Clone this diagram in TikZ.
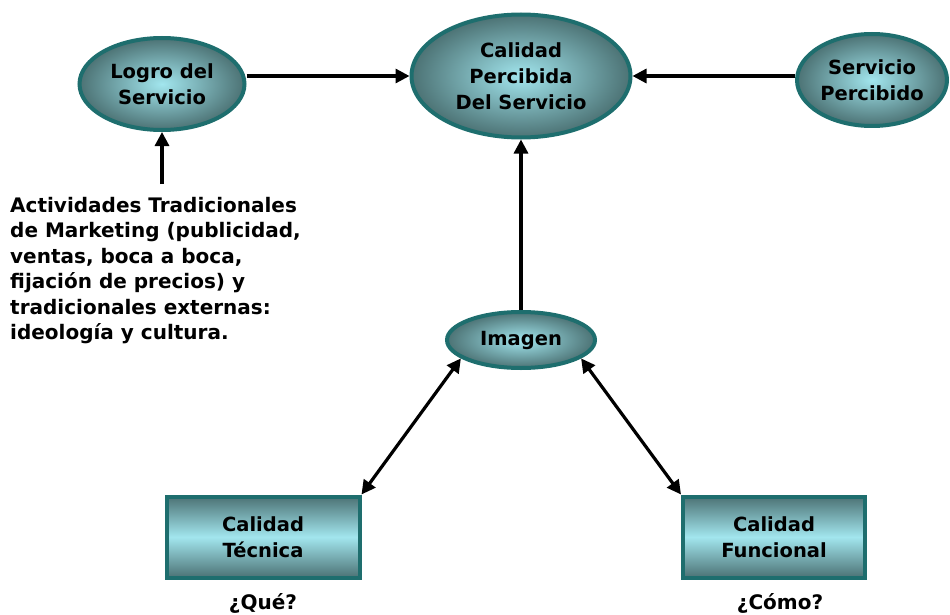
\documentclass[tikz,border=0pt]{standalone}
\usepackage{fontspec}
\setmainfont{DejaVu Sans}
\usetikzlibrary{shapes.geometric,arrows.meta}
\definecolor{rimc}{HTML}{1E6E6E}
\definecolor{lightc}{HTML}{A2E6EE}
\definecolor{darkc}{HTML}{4C7274}
\tikzset{
  oval/.style={ellipse, draw=rimc, line width=4pt, inner sep=0pt,
    shade, inner color=lightc, outer color=darkc,
    font=\bfseries\fontsize{19.5}{26}\selectfont, align=center},
  qbox/.style={rectangle, draw=rimc, line width=4pt, inner sep=0pt,
    shade, top color=darkc, bottom color=darkc, middle color=lightc,
    font=\bfseries\fontsize{19.5}{26}\selectfont, align=center},
  conn/.style={line width=3.2pt, -{Triangle[length=14pt,width=14pt]}},
  biconn/.style={line width=3.2pt, {Triangle[length=14pt,width=14pt]}-{Triangle[length=14pt,width=14pt]}},
  lbl/.style={font=\bfseries\fontsize{20}{25.5}\selectfont, align=left}
}
\begin{document}
\begin{tikzpicture}[x=1pt,y=-1pt]
\useasboundingbox (0,0) rectangle (950,615);
\node[oval, minimum width=165pt, minimum height=92pt] (logro) at (162,84) {Logro del\\Servicio};
\node[oval, minimum width=219pt, minimum height=123pt] (cal) at (521,76) {Calidad\\Percibida\\Del Servicio};
\node[oval, minimum width=150pt, minimum height=92pt] (serv) at (872,80) {Servicio\\Percibido};
\node[oval, minimum width=148pt, minimum height=56pt] (img) at (521,340) {Imagen};
\node[qbox, minimum width=193pt, minimum height=81pt] (tec) at (263,537) {Calidad\\Técnica};
\node[qbox, minimum width=182pt, minimum height=81pt] (fun) at (774,537) {Calidad\\Funcional};
\node[font=\bfseries\fontsize{20}{24}\selectfont] (que) at (263,603) {¿Qué?};
\node[font=\bfseries\fontsize{20}{24}\selectfont] (como) at (780,603) {¿Cómo?};
\node[lbl, anchor=north west, inner sep=0pt] (act) at (10,197) {Actividades Tradicionales\\de Marketing (publicidad,\\ventas, boca a boca,\\fijación de precios) y\\tradicionales externas:\\ideología y cultura.};
\coordinate (actop) at (162,184);
\draw[conn] (logro.east |- 0,76) -- (cal.west |- 0,76);
\draw[conn] (serv.west |- 0,76) -- (cal.east |- 0,76);
\draw[conn] (actop) -- (logro.south);
\draw[conn] (img.north) -- (cal.south);
\draw[biconn] (tec.north east) -- (img.197);
\draw[biconn] (fun.north west) -- (img.343);
\end{tikzpicture}
\end{document}
